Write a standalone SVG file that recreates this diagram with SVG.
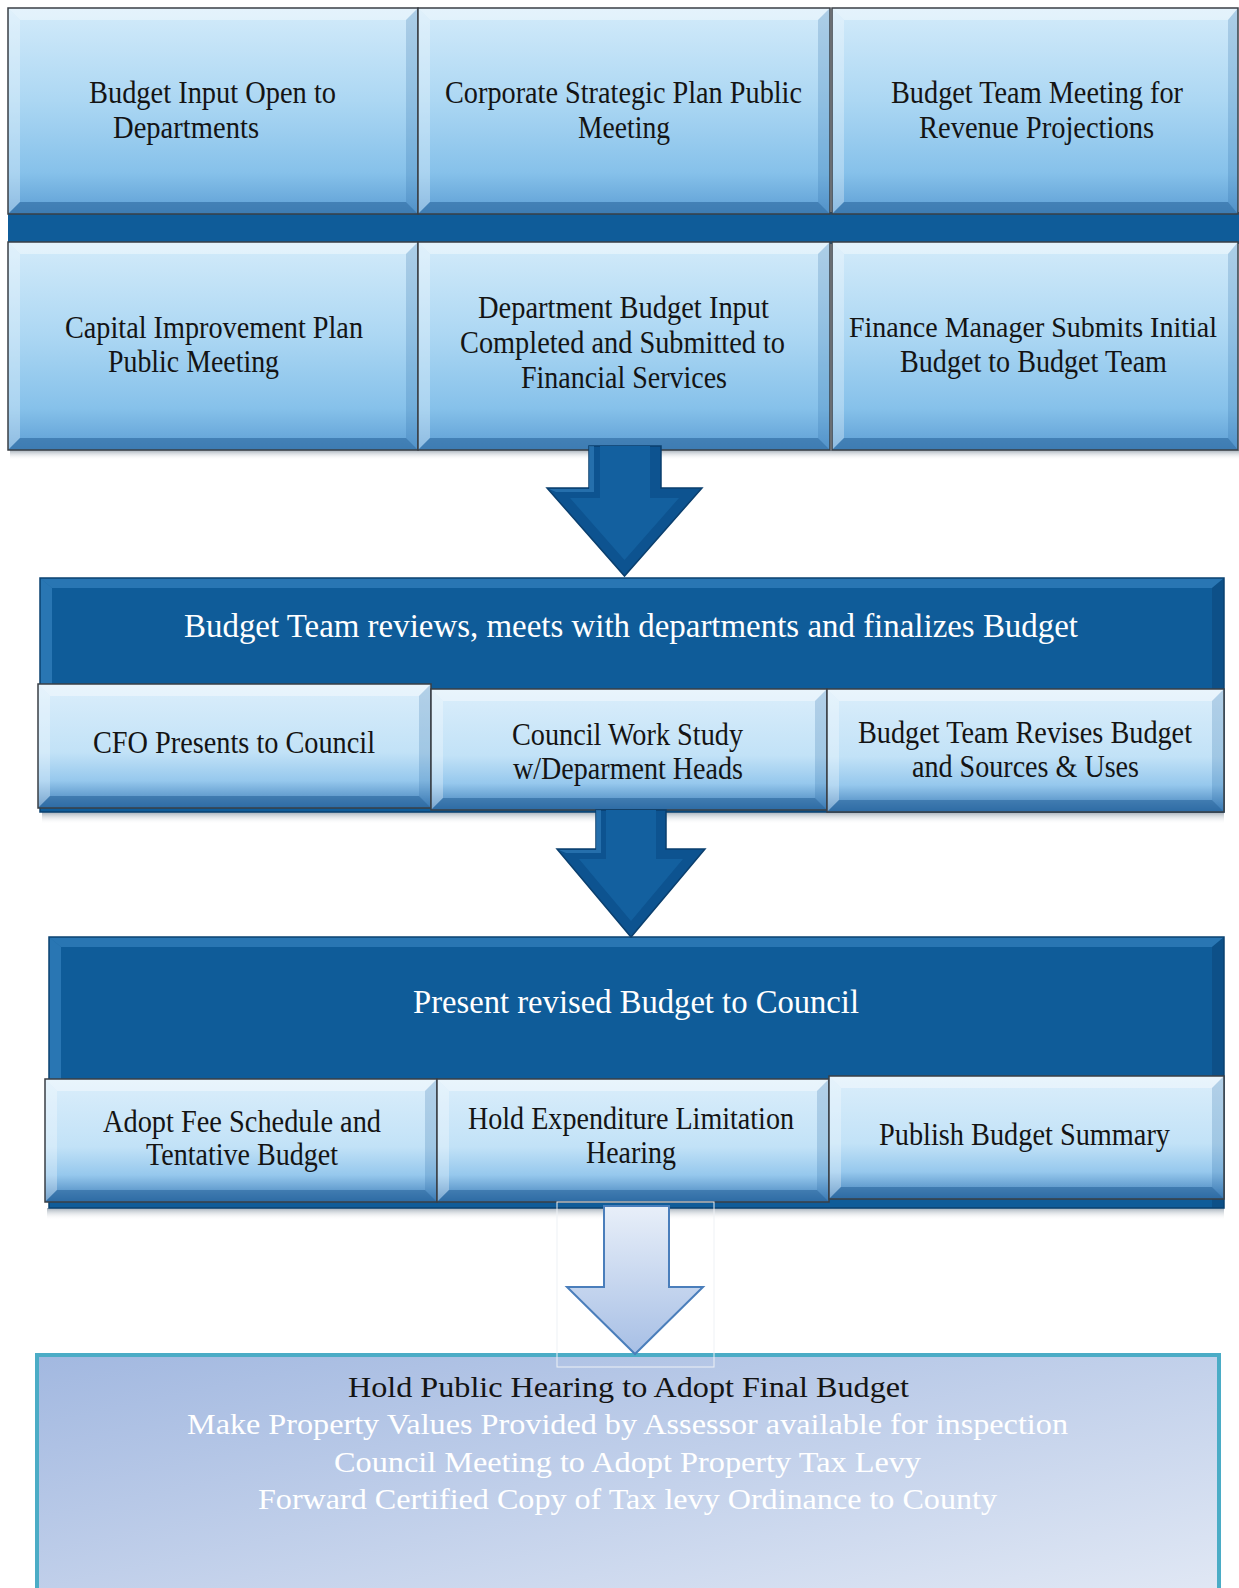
<svg xmlns="http://www.w3.org/2000/svg" width="1239" height="1588" viewBox="0 0 1239 1588">
<defs>
<linearGradient id="gBox" x1="0" y1="0" x2="0" y2="1">
<stop offset="0" stop-color="#d3ebfa"/><stop offset="0.45" stop-color="#acd7f3"/><stop offset="0.8" stop-color="#86c1ea"/><stop offset="1" stop-color="#5d9ed4"/>
</linearGradient>
<linearGradient id="gSub" x1="0" y1="0" x2="0" y2="1">
<stop offset="0" stop-color="#dbeefb"/><stop offset="0.55" stop-color="#c2e2f7"/><stop offset="0.78" stop-color="#96c8ed"/><stop offset="1" stop-color="#3d7db8"/>
</linearGradient>
<linearGradient id="gLight" x1="0" y1="0" x2="0" y2="1">
<stop offset="0" stop-color="#e8eff9"/><stop offset="1" stop-color="#a7bfe5"/>
</linearGradient>
<linearGradient id="gFinal" x1="0" y1="0" x2="1" y2="1">
<stop offset="0" stop-color="#a2b8e0"/><stop offset="1" stop-color="#e2e9f5"/>
</linearGradient>
<linearGradient id="gShadow" x1="0" y1="0" x2="0" y2="1">
<stop offset="0" stop-color="#7a8a99" stop-opacity="0.7"/><stop offset="1" stop-color="#ffffff" stop-opacity="0"/>
</linearGradient>
</defs>
<style>
.box{fill:url(#gBox);}
.sub{fill:url(#gSub);}
.edge{fill:none;stroke:#3a3f45;stroke-width:1.5;}
.bvT{fill:#ffffff;fill-opacity:0.4;}
.bvL{fill:#ffffff;fill-opacity:0.3;}
.bvR{fill:#2a6aa3;fill-opacity:0.22;}
.bvB{fill:#1d5a92;fill-opacity:0.5;}
.dark{fill:#0f5c99;}
.darkEdge{fill:none;stroke:#0a4170;stroke-width:1.5;}
.hl{fill:#3f8cc9;fill-opacity:0.55;}
.arrD{fill:#0d5390;stroke:#0a3f6e;stroke-width:1.5;}
.arrIn{fill:#13609f;}
.arrL{fill:url(#gLight);stroke:#4a7ebb;stroke-width:2;}
.shadow{fill:url(#gShadow);}
.t{font-family:"Liberation Serif","Times New Roman",serif;font-size:32px;fill:#141414;}
.h{font-family:"Liberation Serif","Times New Roman",serif;font-size:33px;fill:#ffffff;}
.f{font-family:"Liberation Serif","Times New Roman",serif;font-size:30px;fill:#ffffff;}
.fk{fill:#141414;}
</style>
<rect width="1239" height="1588" fill="#ffffff"/>

<g id="stage1">
<rect class="shadow" x="10" y="450" width="1229" height="10"/>
<rect class="dark" x="8" y="212" width="1231" height="32"/>
<g id="n-budget-input-open">
<rect class="box" x="8" y="8" width="410" height="206"/>
<polygon class="bvT" points="8,8 418,8 406,20 20,20"/><polygon class="bvL" points="8,8 20,20 20,202 8,214"/><polygon class="bvR" points="418,8 418,214 406,202 406,20"/><polygon class="bvB" points="8,214 20,202 406,202 418,214"/>
<rect class="edge" x="8" y="8" width="410" height="206"/>
<text class="t" x="89" y="103" textLength="247" lengthAdjust="spacingAndGlyphs">Budget Input Open to</text>
<text class="t" x="113" y="138" textLength="146" lengthAdjust="spacingAndGlyphs">Departments</text>
</g>
<g id="n-corporate-strategic">
<rect class="box" x="418" y="8" width="412" height="206"/>
<polygon class="bvT" points="418,8 830,8 818,20 430,20"/><polygon class="bvL" points="418,8 430,20 430,202 418,214"/><polygon class="bvR" points="830,8 830,214 818,202 818,20"/><polygon class="bvB" points="418,214 430,202 818,202 830,214"/>
<rect class="edge" x="418" y="8" width="412" height="206"/>
<text class="t" x="445" y="103" textLength="357" lengthAdjust="spacingAndGlyphs">Corporate Strategic Plan Public</text>
<text class="t" x="578" y="138" textLength="92" lengthAdjust="spacingAndGlyphs">Meeting</text>
</g>
<g id="n-revenue-projections">
<rect class="box" x="832" y="8" width="406" height="206"/>
<polygon class="bvT" points="832,8 1238,8 1228,20 844,20"/><polygon class="bvL" points="832,8 844,20 844,202 832,214"/><polygon class="bvR" points="1238,8 1238,214 1228,202 1228,20"/><polygon class="bvB" points="832,214 844,202 1228,202 1238,214"/>
<rect class="edge" x="832" y="8" width="406" height="206"/>
<text class="t" x="891" y="103" textLength="292" lengthAdjust="spacingAndGlyphs">Budget Team Meeting for</text>
<text class="t" x="919" y="138" textLength="235" lengthAdjust="spacingAndGlyphs">Revenue Projections</text>
</g>
<g id="n-capital-improvement">
<rect class="box" x="8" y="242" width="410" height="208"/>
<polygon class="bvT" points="8,242 418,242 406,254 20,254"/><polygon class="bvL" points="8,242 20,254 20,438 8,450"/><polygon class="bvR" points="418,242 418,450 406,438 406,254"/><polygon class="bvB" points="8,450 20,438 406,438 418,450"/>
<rect class="edge" x="8" y="242" width="410" height="208"/>
<text class="t" x="65" y="338" textLength="298" lengthAdjust="spacingAndGlyphs">Capital Improvement Plan</text>
<text class="t" x="108" y="372" textLength="171" lengthAdjust="spacingAndGlyphs">Public Meeting</text>
</g>
<g id="n-department-input">
<rect class="box" x="418" y="242" width="412" height="208"/>
<polygon class="bvT" points="418,242 830,242 818,254 430,254"/><polygon class="bvL" points="418,242 430,254 430,438 418,450"/><polygon class="bvR" points="830,242 830,450 818,438 818,254"/><polygon class="bvB" points="418,450 430,438 818,438 830,450"/>
<rect class="edge" x="418" y="242" width="412" height="208"/>
<text class="t" x="478" y="318" textLength="291" lengthAdjust="spacingAndGlyphs">Department Budget Input</text>
<text class="t" x="460" y="353" textLength="325" lengthAdjust="spacingAndGlyphs">Completed and Submitted to</text>
<text class="t" x="521" y="388" textLength="206" lengthAdjust="spacingAndGlyphs">Financial Services</text>
</g>
<g id="n-finance-manager">
<rect class="box" x="832" y="242" width="406" height="208"/>
<polygon class="bvT" points="832,242 1238,242 1228,254 844,254"/><polygon class="bvL" points="832,242 844,254 844,438 832,450"/><polygon class="bvR" points="1238,242 1238,450 1228,438 1228,254"/><polygon class="bvB" points="832,450 844,438 1228,438 1238,450"/>
<rect class="edge" x="832" y="242" width="406" height="208"/>
<text class="t" x="849" y="337" style="font-size:29px" textLength="368" lengthAdjust="spacingAndGlyphs">Finance Manager Submits Initial</text>
<text class="t" x="900" y="372" textLength="267" lengthAdjust="spacingAndGlyphs">Budget to Budget Team</text>
</g>
</g>

<g id="stage2">
<rect class="shadow" x="42" y="812" width="1182" height="12"/>
<g id="n-budget-team-reviews">
<rect class="dark" x="40" y="578" width="1184" height="234"/>
<polygon class="hl" points="40,578 1224,578 1212,588 52,588"/>
<polygon class="hl" points="40,578 52,588 52,684 40,684"/>
<polygon fill="#0a3f6e" fill-opacity="0.4" points="1224,578 1224,812 1212,812 1212,588"/>
<rect class="darkEdge" x="40" y="578" width="1184" height="234"/>
<text class="h" x="184" y="637" textLength="894" lengthAdjust="spacingAndGlyphs">Budget Team reviews, meets with departments and finalizes Budget</text>
</g>
<g id="n-cfo-presents">
<rect class="sub" x="38" y="684" width="393" height="124"/>
<polygon class="bvT" points="38,684 431,684 419,696 50,696"/><polygon class="bvL" points="38,684 50,696 50,796 38,808"/><polygon class="bvR" points="431,684 431,808 419,796 419,696"/><polygon class="bvB" points="38,808 50,796 419,796 431,808"/>
<rect class="edge" x="38" y="684" width="393" height="124"/>
<text class="t" x="93" y="753" textLength="282" lengthAdjust="spacingAndGlyphs">CFO Presents to Council</text>
</g>
<g id="n-council-work-study">
<rect class="sub" x="431" y="689" width="396" height="121"/>
<polygon class="bvT" points="431,689 827,689 815,701 443,701"/><polygon class="bvL" points="431,689 443,701 443,798 431,810"/><polygon class="bvR" points="827,689 827,810 815,798 815,701"/><polygon class="bvB" points="431,810 443,798 815,798 827,810"/>
<rect class="edge" x="431" y="689" width="396" height="121"/>
<text class="t" x="512" y="745" textLength="231" lengthAdjust="spacingAndGlyphs">Council Work Study</text>
<text class="t" x="513" y="779" textLength="230" lengthAdjust="spacingAndGlyphs">w/Deparment Heads</text>
</g>
<g id="n-team-revises">
<rect class="sub" x="827" y="689" width="397" height="123"/>
<polygon class="bvT" points="827,689 1224,689 1212,701 839,701"/><polygon class="bvL" points="827,689 839,701 839,800 827,812"/><polygon class="bvR" points="1224,689 1224,812 1212,800 1212,701"/><polygon class="bvB" points="827,812 839,800 1212,800 1224,812"/>
<rect class="edge" x="827" y="689" width="397" height="123"/>
<text class="t" x="858" y="743" textLength="334" lengthAdjust="spacingAndGlyphs">Budget Team Revises Budget</text>
<text class="t" x="912" y="777" textLength="227" lengthAdjust="spacingAndGlyphs">and Sources &amp; Uses</text>
</g>
</g>

<g id="stage3">
<rect class="shadow" x="47" y="1208" width="1177" height="12"/>
<g id="n-present-revised">
<rect class="dark" x="49" y="937" width="1175" height="271"/>
<polygon class="hl" points="49,937 1224,937 1212,947 61,947"/>
<polygon class="hl" points="49,937 61,947 61,1079 49,1079"/>
<polygon fill="#0a3f6e" fill-opacity="0.4" points="1224,937 1224,1208 1212,1208 1212,947"/>
<rect class="darkEdge" x="49" y="937" width="1175" height="271"/>
<text class="h" x="413" y="1013" textLength="446" lengthAdjust="spacingAndGlyphs">Present revised Budget to Council</text>
</g>
<g id="n-adopt-fee">
<rect class="sub" x="45" y="1079" width="392" height="123"/>
<polygon class="bvT" points="45,1079 437,1079 425,1091 57,1091"/><polygon class="bvL" points="45,1079 57,1091 57,1190 45,1202"/><polygon class="bvR" points="437,1079 437,1202 425,1190 425,1091"/><polygon class="bvB" points="45,1202 57,1190 425,1190 437,1202"/>
<rect class="edge" x="45" y="1079" width="392" height="123"/>
<text class="t" x="103" y="1132" textLength="278" lengthAdjust="spacingAndGlyphs">Adopt Fee Schedule and</text>
<text class="t" x="146" y="1165" textLength="192" lengthAdjust="spacingAndGlyphs">Tentative Budget</text>
</g>
<g id="n-expenditure-limitation">
<rect class="sub" x="437" y="1079" width="392" height="123"/>
<polygon class="bvT" points="437,1079 829,1079 817,1091 449,1091"/><polygon class="bvL" points="437,1079 449,1091 449,1190 437,1202"/><polygon class="bvR" points="829,1079 829,1202 817,1190 817,1091"/><polygon class="bvB" points="437,1202 449,1190 817,1190 829,1202"/>
<rect class="edge" x="437" y="1079" width="392" height="123"/>
<text class="t" x="468" y="1129" textLength="326" lengthAdjust="spacingAndGlyphs">Hold Expenditure Limitation</text>
<text class="t" x="586" y="1163" textLength="90" lengthAdjust="spacingAndGlyphs">Hearing</text>
</g>
<g id="n-publish-summary">
<rect class="sub" x="829" y="1076" width="395" height="123"/>
<polygon class="bvT" points="829,1076 1224,1076 1212,1088 841,1088"/><polygon class="bvL" points="829,1076 841,1088 841,1187 829,1199"/><polygon class="bvR" points="1224,1076 1224,1199 1212,1187 1212,1088"/><polygon class="bvB" points="829,1199 841,1187 1212,1187 1224,1199"/>
<rect class="edge" x="829" y="1076" width="395" height="123"/>
<text class="t" x="879" y="1145" textLength="291" lengthAdjust="spacingAndGlyphs">Publish Budget Summary</text>
</g>
</g>

<g id="n-final-hearing">
<rect x="37" y="1355" width="1182" height="250" fill="url(#gFinal)" stroke="#4bacc6" stroke-width="4"/>
<text class="f fk" x="348" y="1397" textLength="561" lengthAdjust="spacingAndGlyphs">Hold Public Hearing to Adopt Final Budget</text>
<text class="f" x="187" y="1434" textLength="881" lengthAdjust="spacingAndGlyphs">Make Property Values Provided by Assessor available for inspection</text>
<text class="f" x="334" y="1472" textLength="587" lengthAdjust="spacingAndGlyphs">Council Meeting to Adopt Property Tax Levy</text>
<text class="f" x="258" y="1509" textLength="739" lengthAdjust="spacingAndGlyphs">Forward Certified Copy of Tax levy Ordinance to County</text>
</g>

<g id="connectors">
<g id="arrow-1">
<polygon class="arrD" points="589,446 661,446 661,488 702,488 624.5,576 547,488 589,488"/>
<polygon class="arrIn" points="600,446 650,446 650,498 679,498 624.5,560 570,498 600,498"/>
<polygon fill="#3d8bc8" fill-opacity="0.5" points="589,446 594,446 594,492 556,492 549,489 589,489"/>
</g>
<g id="arrow-2">
<polygon class="arrD" points="596,810 666,810 666,849 705,849 631,937 557,849 596,849"/>
<polygon class="arrIn" points="606,810 656,810 656,859 683,859 631,921 579,859 606,859"/>
<polygon fill="#3d8bc8" fill-opacity="0.5" points="596,810 601,810 601,853 566,853 559,850 596,850"/>
</g>
<g id="arrow-3">
<rect x="557" y="1202" width="157" height="165" fill="none" stroke="#eef1f5" stroke-width="1"/>
<polygon class="arrL" points="604,1206 669,1206 669,1287 703,1287 635,1354 567,1287 604,1287"/>
</g>
</g>
</svg>
